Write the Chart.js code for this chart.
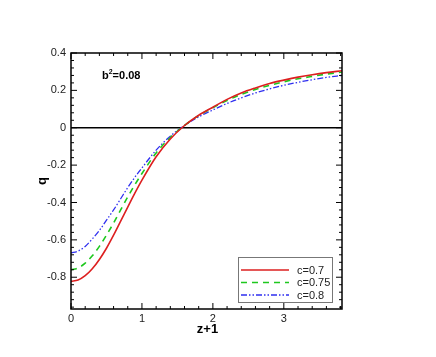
<!DOCTYPE html>
<html>
<head>
<meta charset="utf-8">
<script src="https://cdn.jsdelivr.net/npm/chart.js@4.4.1/dist/chart.umd.min.js"></script>
<style>
    html, body { margin: 0; padding: 0; background: #fff; }
    #wrap { width: 436px; height: 357px; }
</style>
</head>
<body>
<div id="wrap"><canvas id="q-chart" width="436" height="357"></canvas></div>
<script>
// z+1 sample points and q for each c
const zValues = [0, 0.1, 0.2, 0.3, 0.4, 0.5, 0.6, 0.7, 0.8, 0.9, 1.0, 1.2, 1.4, 1.6, 1.8, 2.0, 2.2, 2.4, 2.6, 2.8, 3.0, 3.2, 3.4, 3.6, 3.82];
const qC070 = [-0.822, -0.815, -0.792, -0.755, -0.705, -0.645, -0.575, -0.5, -0.425, -0.35, -0.28, -0.155, -0.06, 0.012, 0.067, 0.11, 0.152, 0.186, 0.213, 0.237, 0.255, 0.271, 0.284, 0.295, 0.305];
const qC075 = [-0.76, -0.75, -0.725, -0.685, -0.635, -0.575, -0.51, -0.44, -0.37, -0.305, -0.245, -0.135, -0.052, 0.012, 0.065, 0.107, 0.146, 0.178, 0.205, 0.227, 0.246, 0.262, 0.275, 0.287, 0.298];
const qC080 = [-0.67, -0.66, -0.635, -0.595, -0.55, -0.495, -0.44, -0.38, -0.32, -0.265, -0.215, -0.12, -0.045, 0.012, 0.058, 0.095, 0.13, 0.16, 0.186, 0.208, 0.227, 0.243, 0.257, 0.269, 0.28];
const zeroLine = [0, 0];
const zeroLineX = [0, 3.82];
const seriesLabels = ["c=0.7", "c=0.75", "c=0.8"];

const xMin = 0, xMax = 3.82;
const yMin = -0.97, yMax = 0.4;

Chart.defaults.font.family = "'Liberation Sans', Arial, sans-serif";
Chart.defaults.font.size = 11;
Chart.defaults.color = "#222";

function pairs(xs, ys) {
    return xs.map((x, i) => ({ x: x, y: ys[i] }));
}

// frame, inward ticks on all four sides, axis titles, note and legend
const framePlugin = {
    id: "frame",
    afterDraw(chart) {
        const ctx = chart.ctx;
        const a = chart.chartArea;
        const xs = chart.scales.x;
        const ys = chart.scales.y;
        ctx.save();
        ctx.strokeStyle = "#000";
        ctx.lineWidth = 1.5;
        ctx.strokeRect(a.left, a.top, a.right - a.left, a.bottom - a.top);

        ctx.lineWidth = 1;
        ctx.beginPath();
        for (let i = 0; i <= Math.round(xMax / 0.2); i++) {
            const v = i * 0.2;
            if (v > xMax) break;
            const px = xs.getPixelForValue(v);
            const len = (i % 5 === 0) ? 6 : 3;
            ctx.moveTo(px, a.bottom); ctx.lineTo(px, a.bottom - len);
            ctx.moveTo(px, a.top); ctx.lineTo(px, a.top + len);
        }
        for (let i = Math.ceil(yMin / 0.04); i <= Math.round(yMax / 0.04); i++) {
            const v = i * 0.04;
            const py = ys.getPixelForValue(v);
            const len = (i % 5 === 0) ? 6 : 3;
            ctx.moveTo(a.left, py); ctx.lineTo(a.left + len, py);
            ctx.moveTo(a.right, py); ctx.lineTo(a.right - len, py);
        }
        ctx.stroke();

        // axis titles
        ctx.fillStyle = "#000";
        ctx.font = "bold 13px 'Liberation Sans', Arial, sans-serif";
        ctx.textAlign = "center";
        ctx.textBaseline = "middle";
        ctx.fillText("z+1", (a.left + a.right) / 2 + 1, 329);
        ctx.save();
        ctx.translate(42, 181);
        ctx.rotate(-Math.PI / 2);
        ctx.fillText("q", 0, 0);
        ctx.restore();

        // b^2 note
        ctx.textAlign = "left";
        ctx.textBaseline = "alphabetic";
        ctx.font = "bold 11px 'Liberation Sans', Arial, sans-serif";
        ctx.fillText("b", 102, 79);
        const bw = ctx.measureText("b").width;
        ctx.font = "bold 7px 'Liberation Sans', Arial, sans-serif";
        ctx.fillText("2", 102 + bw, 74);
        const sw = ctx.measureText("2").width;
        ctx.font = "bold 11px 'Liberation Sans', Arial, sans-serif";
        ctx.fillText("=0.08", 102 + bw + sw, 79);

        // legend box
        const bx = 238, by = 257, bwid = 94, bh = 45;
        ctx.fillStyle = "#fff";
        ctx.fillRect(bx, by, bwid, bh);
        ctx.strokeStyle = "#777";
        ctx.lineWidth = 1;
        ctx.strokeRect(bx + 0.5, by + 0.5, bwid, bh);
        const rows = [270, 282.5, 295];
        ctx.font = "11px 'Liberation Sans', Arial, sans-serif";
        ctx.textBaseline = "middle";
        for (let i = 0; i < 3; i++) {
            const ds = chart.data.datasets[i];
            ctx.strokeStyle = ds.borderColor;
            ctx.lineWidth = ds.borderWidth;
            ctx.setLineDash(ds.borderDash || []);
            ctx.beginPath();
            ctx.moveTo(241, rows[i]);
            ctx.lineTo(289, rows[i]);
            ctx.stroke();
            ctx.setLineDash([]);
            ctx.fillStyle = "#222";
            ctx.fillText(ds.label, 297, rows[i] + 0.5);
        }
        ctx.restore();
    }
};

const ctx = document.getElementById("q-chart").getContext("2d");
new Chart(ctx, {
    type: "line",
    data: {
        datasets: [
            {
                label: seriesLabels[0],
                data: pairs(zValues, qC070),
                borderColor: "#dd1f1f",
                borderWidth: 1.6,
                pointRadius: 0,
                cubicInterpolationMode: "monotone"
            },
            {
                label: seriesLabels[1],
                data: pairs(zValues, qC075),
                borderColor: "#1ec81e",
                borderWidth: 1.6,
                borderDash: [6, 5],
                pointRadius: 0,
                cubicInterpolationMode: "monotone"
            },
            {
                label: seriesLabels[2],
                data: pairs(zValues, qC080),
                borderColor: "#2f2ff0",
                borderWidth: 1.3,
                borderDash: [6, 2, 1.5, 2, 1.5, 2],
                pointRadius: 0,
                cubicInterpolationMode: "monotone"
            },
            {
                label: "zero",
                data: pairs(zeroLineX, zeroLine),
                borderColor: "#000",
                borderWidth: 1.4,
                pointRadius: 0
            }
        ]
    },
    options: {
        responsive: false,
        animation: false,
        events: [],
        layout: { padding: { left: 0, right: 94, top: 53, bottom: 0 } },
        plugins: {
            legend: { display: false },
            tooltip: { enabled: false }
        },
        scales: {
            x: {
                type: "linear",
                min: xMin,
                max: xMax,
                grid: { display: false, drawTicks: false },
                border: { display: false },
                ticks: {
                    stepSize: 1,
                    includeBounds: false,
                    padding: 3,
                    maxRotation: 0,
                    callback: v => String(Math.round(v))
                },
                afterFit: scale => { scale.height = 48; }
            },
            y: {
                min: yMin,
                max: yMax,
                grid: { display: false, drawTicks: false },
                border: { display: false },
                ticks: {
                    stepSize: 0.2,
                    includeBounds: false,
                    padding: 5,
                    callback: v => String(Number(v.toFixed(2)))
                },
                afterFit: scale => { scale.width = 71; }
            }
        }
    },
    plugins: [framePlugin]
});
</script>
</body>
</html>
